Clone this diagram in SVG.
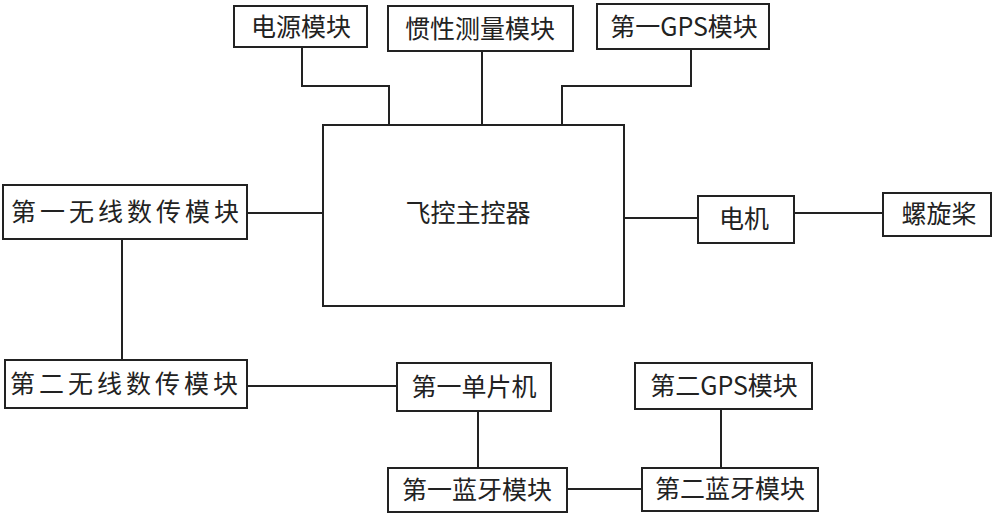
<svg xmlns="http://www.w3.org/2000/svg" width="1000" height="517" viewBox="0 0 1000 517">
<style>
.box{fill:#fff;stroke:#222;stroke-width:2}
.lbl{font-family:"Noto Sans CJK SC","Noto Sans",sans-serif;font-size:25px;fill:#222;text-anchor:middle}
.wide{letter-spacing:4px}
.conn{fill:none;stroke:#222;stroke-width:2}
</style>
<rect width="1000" height="517" fill="#fff"/>
<g id="connectors" class="conn">
<polyline points="302,47 302,86 389,86 389,125"/>
<polyline points="482,51 482,125"/>
<polyline points="691,49 691,86 562,86 562,125"/>
<polyline points="247,213 323,213"/>
<polyline points="624,218 698,218"/>
<polyline points="794,213 883,213"/>
<polyline points="122,239 122,360"/>
<polyline points="247,386 397,386"/>
<polyline points="478,411 478,468"/>
<polyline points="567,489 642,489"/>
<polyline points="721,409 721,468"/>
</g>
<g id="power"><rect class="box" x="234" y="6" width="133" height="41"/><text class="lbl" x="301" y="36">电源模块</text></g>
<g id="imu"><rect class="box" x="388" y="6" width="185" height="45"/><text class="lbl" x="480" y="38">惯性测量模块</text></g>
<g id="gps1"><rect class="box" x="597" y="4" width="172" height="45"/><text class="lbl" x="684" y="36">第一GPS模块</text></g>
<g id="main"><rect class="box" x="323" y="125" width="301" height="181"/><text class="lbl" x="468" y="222">飞控主控器</text></g>
<g id="wireless1"><rect class="box" x="3" y="185" width="244" height="54"/><text class="lbl wide" x="127" y="221">第一无线数传模块</text></g>
<g id="wireless2"><rect class="box" x="5" y="360" width="242" height="48"/><text class="lbl wide" x="126" y="393">第二无线数传模块</text></g>
<g id="motor"><rect class="box" x="698" y="196" width="96" height="47"/><text class="lbl" x="744" y="228">电机</text></g>
<g id="propeller"><rect class="box" x="883" y="193" width="108" height="43"/><text class="lbl" x="939" y="223">螺旋桨</text></g>
<g id="mcu1"><rect class="box" x="397" y="363" width="154" height="48"/><text class="lbl" x="474" y="396">第一单片机</text></g>
<g id="bt1"><rect class="box" x="388" y="468" width="179" height="44"/><text class="lbl" x="477" y="499">第一蓝牙模块</text></g>
<g id="gps2"><rect class="box" x="635" y="363" width="177" height="46"/><text class="lbl" x="724" y="395">第二GPS模块</text></g>
<g id="bt2"><rect class="box" x="642" y="468" width="176" height="43"/><text class="lbl" x="730" y="498">第二蓝牙模块</text></g>
</svg>
